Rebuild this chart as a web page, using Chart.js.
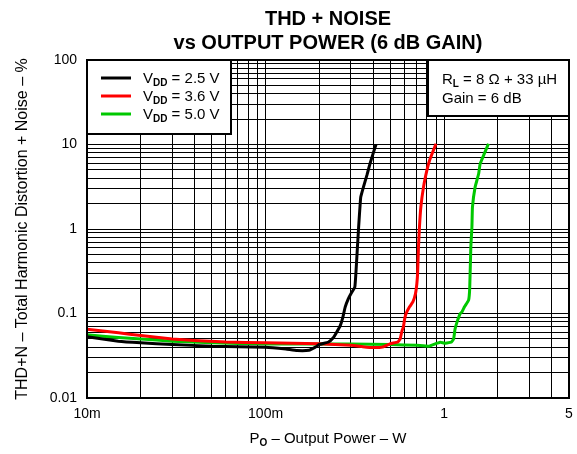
<!DOCTYPE html>
<html lang="en">
<head>
    <meta charset="UTF-8">
    <title>THD + Noise vs Output Power</title>
    <script src="https://cdn.jsdelivr.net/npm/chart.js"></script>
    <style>
        html, body { margin: 0; padding: 0; background: #fff; }
        #wrap { width: 577px; height: 454px; }
    </style>
</head>
<body>
<div id="wrap"><canvas id="thdChart" width="577" height="454"></canvas></div>
<script>
// values (output power in W, THD+N in %)
const vdd25Power = [0.01, 0.015, 0.02, 0.03, 0.05, 0.1, 0.13, 0.15, 0.175, 0.19, 0.2, 0.225, 0.24, 0.25, 0.262, 0.27, 0.279, 0.29, 0.3, 0.316, 0.321, 0.331, 0.341, 0.353, 0.37, 0.384, 0.415];
const vdd25Thd   = [0.053, 0.047, 0.045, 0.043, 0.041, 0.040, 0.038, 0.0365, 0.0368, 0.040, 0.043, 0.046, 0.052, 0.06, 0.072, 0.088, 0.119, 0.148, 0.17, 0.206, 0.32, 0.96, 2.38, 3.13, 4.4, 5.9, 10];

const vdd36Power = [0.01, 0.015, 0.02, 0.03, 0.04, 0.06, 0.1, 0.2, 0.3, 0.35, 0.4, 0.45, 0.5, 0.55, 0.567, 0.58, 0.591, 0.6, 0.612, 0.64, 0.668, 0.69, 0.703, 0.71, 0.718, 0.727, 0.74, 0.766, 0.8, 0.828, 0.9];
const vdd36Thd   = [0.065, 0.059, 0.055, 0.05, 0.048, 0.046, 0.045, 0.044, 0.042, 0.0405, 0.0395, 0.040, 0.044, 0.046, 0.05, 0.062, 0.069, 0.085, 0.1, 0.12, 0.137, 0.17, 0.225, 0.3, 0.61, 1.05, 1.81, 3.13, 4.93, 6.47, 10.2];

const vdd50Power = [0.01, 0.015, 0.02, 0.03, 0.05, 0.1, 0.2, 0.3, 0.5, 0.7, 0.82, 0.89, 0.95, 1.0, 1.035, 1.1, 1.13, 1.15, 1.18, 1.23, 1.26, 1.3, 1.37, 1.39, 1.41, 1.43, 1.44, 1.49, 1.56, 1.59, 1.77];
const vdd50Thd   = [0.056, 0.052, 0.05, 0.047, 0.045, 0.0435, 0.0435, 0.0435, 0.043, 0.042, 0.041, 0.0437, 0.0458, 0.0445, 0.0448, 0.046, 0.05, 0.065, 0.079, 0.1, 0.105, 0.12, 0.144, 0.2, 0.61, 1.05, 1.81, 3.13, 4.5, 5.9, 10.2];

const seriesNames = ['2.5 V', '3.6 V', '5.0 V'];

const xGrid = [0.01, 0.02, 0.03, 0.04, 0.05, 0.06, 0.07, 0.08, 0.09, 0.1, 0.2, 0.3, 0.4, 0.5, 0.6, 0.7, 0.8, 0.9, 1, 2, 3, 4, 5];
const xTickValues = [0.01, 0.1, 1, 5];
const xTickLabels = ['10m', '100m', '1', '5'];

const yGrid = [0.01, 0.02, 0.03, 0.04, 0.05, 0.06, 0.07, 0.08, 0.09, 0.1, 0.2, 0.3, 0.4, 0.5, 0.6, 0.7, 0.8, 0.9, 1, 2, 3, 4, 5, 6, 7, 8, 9, 10, 20, 30, 40, 50, 60, 70, 80, 90, 100];
const yTickValues = [0.01, 0.1, 1, 10, 100];
const yTickLabels = ['0.01', '0.1', '1', '10', '100'];

const FONT = '"Liberation Sans", Arial, Helvetica, sans-serif';
const colors = ['#000000', '#ff0000', '#00c800'];

function pts(xs, ys) {
    return xs.map((x, i) => ({ x: x, y: ys[i] }));
}

function labelFor(v, vals, texts) {
    for (let i = 0; i < vals.length; i++) {
        if (Math.abs(v - vals[i]) / vals[i] < 1e-6) return texts[i];
    }
    return '';
}

// draw a run of text pieces, some of them subscripts
function richText(ctx, parts, x, y) {
    parts.forEach(p => {
        ctx.font = p.font;
        ctx.fillText(p.t, x, y + (p.dy || 0));
        x += ctx.measureText(p.t).width;
    });
    return x;
}

const decor = {
    id: 'decor',
    afterDatasetsDraw(chart) {
        const ctx = chart.ctx;
        const a = chart.chartArea;
        ctx.save();
        ctx.fillStyle = '#000';
        ctx.textBaseline = 'alphabetic';

        // legend box (top left)
        ctx.fillStyle = '#fff';
        ctx.fillRect(a.left, a.top, 144, 74);
        ctx.strokeStyle = '#000';
        ctx.lineWidth = 2;
        ctx.strokeRect(a.left, a.top, 144, 74);
        chart.data.datasets.forEach((ds, i) => {
            const cy = a.top + 18 + i * 18;
            ctx.strokeStyle = ds.borderColor;
            ctx.lineWidth = 3;
            ctx.beginPath();
            ctx.moveTo(a.left + 14, cy);
            ctx.lineTo(a.left + 44, cy);
            ctx.stroke();
            ctx.fillStyle = '#000';
            richText(ctx, [
                { t: 'V', font: '15px ' + FONT },
                { t: 'DD', font: 'bold 10px ' + FONT, dy: 3 },
                { t: ' = ' + seriesNames[i], font: '15px ' + FONT }
            ], a.left + 56, cy + 5);
        });

        // conditions box (top right)
        const bx = 428, bw = a.right - bx;
        ctx.fillStyle = '#fff';
        ctx.fillRect(bx, a.top, bw, 56);
        ctx.strokeStyle = '#000';
        ctx.lineWidth = 2;
        ctx.strokeRect(bx, a.top, bw, 56);
        ctx.fillStyle = '#000';
        richText(ctx, [
            { t: 'R', font: '15px ' + FONT },
            { t: 'L', font: 'bold 10px ' + FONT, dy: 3 },
            { t: ' = 8 \u03A9 + 33 \u00B5H', font: '15px ' + FONT }
        ], bx + 14, a.top + 24);
        richText(ctx, [{ t: 'Gain = 6 dB', font: '15px ' + FONT }], bx + 14, a.top + 43);

        // plot frame
        ctx.lineWidth = 2;
        ctx.strokeRect(a.left, a.top, a.right - a.left, a.bottom - a.top);

        // chart title
        ctx.textAlign = 'center';
        ctx.font = 'bold 20px ' + FONT;
        const cx = (a.left + a.right) / 2;
        ctx.fillText('THD + NOISE', cx, 25);
        ctx.fillText('vs OUTPUT POWER (6 dB GAIN)', cx, 49);

        // x axis title with subscript
        ctx.textAlign = 'left';
        ctx.font = '15px ' + FONT;
        const pW = ctx.measureText('P').width;
        ctx.font = 'bold 10px ' + FONT;
        const oW = ctx.measureText('O').width;
        ctx.font = '15px ' + FONT;
        const restW = ctx.measureText(' \u2013 Output Power \u2013 W').width;
        richText(ctx, [
            { t: 'P', font: '15px ' + FONT },
            { t: 'O', font: 'bold 10px ' + FONT, dy: 3 },
            { t: ' \u2013 Output Power \u2013 W', font: '15px ' + FONT }
        ], cx - (pW + oW + restW) / 2, 443);

        // y axis title
        ctx.translate(27, (a.top + a.bottom) / 2);
        ctx.rotate(-Math.PI / 2);
        ctx.textAlign = 'center';
        ctx.font = '16px ' + FONT;
        ctx.fillText('THD+N \u2013 Total Harmonic Distortion + Noise \u2013 %', 0, 0);
        ctx.restore();
    }
};

const ctx = document.getElementById('thdChart').getContext('2d');
new Chart(ctx, {
    type: 'line',
    data: {
        datasets: [
            { label: 'VDD = 2.5 V', data: pts(vdd25Power, vdd25Thd), borderColor: colors[0] },
            { label: 'VDD = 3.6 V', data: pts(vdd36Power, vdd36Thd), borderColor: colors[1] },
            { label: 'VDD = 5.0 V', data: pts(vdd50Power, vdd50Thd), borderColor: colors[2] }
        ]
    },
    options: {
        responsive: false,
        animation: false,
        parsing: false,
        elements: {
            line: { borderWidth: 3, tension: 0.1, fill: false },
            point: { radius: 0 }
        },
        layout: { padding: { top: 60, right: 8, left: 0, bottom: 0 } },
        plugins: {
            legend: { display: false },
            title: { display: false },
            tooltip: { enabled: false }
        },
        scales: {
            x: {
                type: 'logarithmic',
                min: 0.01,
                max: 5,
                afterBuildTicks: s => { s.ticks = xGrid.map(v => ({ value: v })); },
                afterFit: s => { s.height = 56; s.paddingLeft = 0; s.paddingRight = 0; },
                ticks: {
                    autoSkip: false,
                    maxRotation: 0,
                    padding: 8,
                    color: '#000',
                    font: { family: FONT, size: 14 },
                    callback: v => labelFor(v, xTickValues, xTickLabels)
                },
                grid: { color: '#000', lineWidth: 1, drawTicks: false },
                border: { display: false }
            },
            y: {
                type: 'logarithmic',
                min: 0.01,
                max: 100,
                afterBuildTicks: s => { s.ticks = yGrid.map(v => ({ value: v })); },
                afterFit: s => { s.width = 87; },
                ticks: {
                    autoSkip: false,
                    padding: 10,
                    color: '#000',
                    font: { family: FONT, size: 14 },
                    callback: v => labelFor(v, yTickValues, yTickLabels)
                },
                grid: { color: '#000', lineWidth: 1, drawTicks: false },
                border: { display: false }
            }
        }
    },
    plugins: [decor]
});
</script>
</body>
</html>
